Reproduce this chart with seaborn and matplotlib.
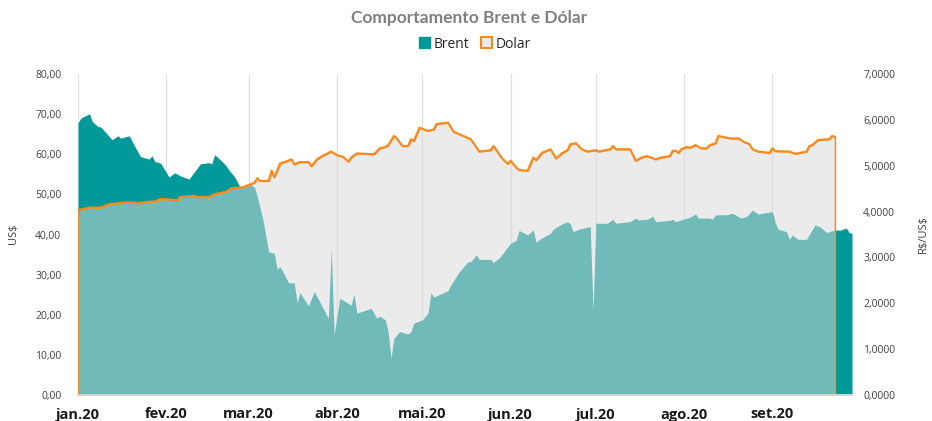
import pandas as pd
import matplotlib
matplotlib.use("Agg")
import matplotlib.pyplot as plt
from matplotlib.patches import Patch
from matplotlib.ticker import FuncFormatter, MultipleLocator
import seaborn as sns

# Dias contados a partir de 01/01/2020 e valores
dias_brent = [0, 1, 4, 5, 7, 8, 11, 12, 14, 15, 18, 20, 22, 25, 26, 27, 29,
              32, 34, 36, 39, 43, 46, 47, 48, 50, 52, 53, 55, 57, 59,
              60, 62, 63, 65, 67, 69, 70, 71, 74, 76, 77, 78, 81, 83, 84, 88, 89, 90,
              92, 96, 97, 98, 103, 105, 106, 108, 109, 110, 111, 113, 116, 117, 118,
              121, 123, 124, 125, 130, 131, 134, 137, 138, 140, 141, 145, 146, 148,
              152, 154, 155, 158, 160, 161, 162, 166, 167, 170, 172, 173, 174, 176, 180, 181,
              182, 186, 188, 189, 194, 196, 197, 200, 202, 203, 208, 209, 210,
              215, 217, 218, 222, 223, 224, 228, 230, 233, 235, 237, 239,
              244, 245, 246, 249, 250, 251, 253, 256, 259, 261, 263, 266, 268, 270, 271, 272]
brent = [67.8, 69.0, 70.1, 68.2, 66.9, 66.8, 64.4, 63.6, 64.6, 64.0, 64.6, 61.9, 59.4, 58.8, 59.6, 58.2, 57.8,
         54.3, 55.4, 54.6, 53.8, 57.6, 57.9, 57.6, 59.9, 58.6, 57.2, 56.1, 54.4, 51.8, 52.4,
         52.8, 51.8, 49.5, 43.6, 35.7, 35.3, 31.3, 32.0, 28.0, 27.9, 23.0, 25.5, 22.2, 25.8, 24.5, 19.1, 36.6, 15.0,
         24.1, 22.4, 25.2, 20.4, 21.6, 19.1, 19.7, 18.7, 15.8, 9.2, 14.1, 15.8, 15.2, 15.8, 17.9,
         18.7, 20.4, 25.4, 24.4, 26.0, 27.4, 30.7, 33.2, 33.2, 34.9, 33.8, 33.8, 33.0, 34.1,
         37.8, 38.5, 41.0, 39.9, 41.1, 38.0, 38.7, 40.3, 41.3, 42.6, 43.2, 42.6, 40.7, 41.3, 42.0, 21.2,
         42.8, 42.8, 43.8, 42.8, 43.2, 44.1, 43.6, 43.8, 44.5, 43.2, 43.5, 43.8, 43.2,
         44.3, 45.1, 44.1, 44.1, 43.8, 44.9, 44.9, 45.3, 44.1, 44.5, 46.1, 45.1,
         45.7, 43.0, 41.3, 40.7, 38.8, 39.9, 38.8, 38.8, 42.4, 41.8, 40.5, 41.1, 41.1, 41.6, 40.5, 40.3]

dias_dolar = [0, 4, 8, 11, 15, 19, 21, 24, 27, 29, 31, 35, 36, 41, 42, 46, 48, 52, 54, 58,
              60, 62, 63, 64, 67, 68, 69, 71, 73, 75, 76, 78, 81, 82, 84, 86, 89,
              91, 93, 95, 96, 98, 104, 106, 108, 109, 111, 112, 114, 116, 117, 118, 120,
              123, 125, 126, 130, 132, 138, 141, 145, 146, 149, 151,
              152, 154, 155, 158, 160, 161, 163, 166, 168, 170, 172, 173, 175, 177, 179,
              182, 183, 187, 188, 189, 194, 196, 198, 200, 203, 205, 208, 209, 210, 211, 212,
              214, 215, 217, 219, 221, 222, 224, 225, 228, 230, 232, 234, 236, 237, 239, 243,
              244, 245, 250, 252, 256, 257, 258, 260, 264, 265, 266]
dolar = [4.03, 4.09, 4.09, 4.16, 4.19, 4.20, 4.18, 4.21, 4.22, 4.27, 4.27, 4.25, 4.32, 4.34, 4.32, 4.32, 4.38, 4.43, 4.51, 4.53,
         4.58, 4.63, 4.73, 4.67, 4.67, 4.89, 4.75, 5.05, 5.09, 5.14, 5.03, 5.08, 5.08, 4.99, 5.14, 5.22, 5.31,
         5.23, 5.20, 5.09, 5.18, 5.27, 5.25, 5.38, 5.41, 5.45, 5.65, 5.60, 5.43, 5.43, 5.58, 5.54, 5.83,
         5.76, 5.79, 5.91, 5.94, 5.74, 5.58, 5.31, 5.34, 5.43, 5.16, 5.04,
         5.11, 4.96, 4.91, 4.89, 5.18, 5.12, 5.28, 5.36, 5.16, 5.27, 5.34, 5.47, 5.49, 5.36, 5.31,
         5.34, 5.31, 5.36, 5.43, 5.36, 5.36, 5.11, 5.18, 5.21, 5.14, 5.18, 5.21, 5.33, 5.33, 5.28, 5.36,
         5.41, 5.39, 5.45, 5.38, 5.38, 5.45, 5.49, 5.65, 5.61, 5.59, 5.60, 5.52, 5.47, 5.36, 5.31, 5.28,
         5.38, 5.32, 5.31, 5.26, 5.31, 5.43, 5.45, 5.56, 5.58, 5.65, 5.63]

meses = ["jan.20", "fev.20", "mar.20", "abr.20", "mai.20", "jun.20", "jul.20", "ago.20", "set.20"]

inicio = pd.Timestamp("2020-01-01")
datas_brent = inicio + pd.to_timedelta(dias_brent, unit="D")
datas_dolar = inicio + pd.to_timedelta(dias_dolar, unit="D")

sns.set_theme(style="white")
plt.rcParams["font.family"] = ["Open Sans", "DejaVu Sans"]

cor_brent = "#009999"
cor_dolar = "#F98B1E"

fig = plt.figure(figsize=(9.32, 4.21), dpi=100)
ax = fig.add_axes([78 / 932, 1 - 395 / 421, 774 / 932, 321 / 421])
ax2 = ax.twinx()

ax.fill_between(datas_brent, brent, 0, color=cor_brent, linewidth=0)
ax2.fill_between(datas_dolar, dolar, 0, facecolor=(0.85, 0.85, 0.85, 0.52),
                 edgecolor=cor_dolar, linewidth=1.1)
sns.lineplot(x=datas_dolar, y=dolar, ax=ax2, color=cor_dolar, linewidth=1.5)

ax.set_xlim(inicio, inicio + pd.Timedelta(days=272))
ax.set_ylim(0, 80)
ax2.set_ylim(0, 7)

ax.yaxis.set_major_locator(MultipleLocator(10))
ax2.yaxis.set_major_locator(MultipleLocator(1))
ax.yaxis.set_major_formatter(FuncFormatter(lambda v, p: f"{v:.2f}".replace(".", ",")))
ax2.yaxis.set_major_formatter(FuncFormatter(lambda v, p: f"{v:.4f}".replace(".", ",")))

ticks = pd.date_range("2020-01-01", periods=9, freq="MS")
ax.set_xticks(ticks)
ax.set_xticklabels(meses, fontsize=10.5, fontweight="bold", color="#1a1a1a")
ax.tick_params(axis="x", length=4, width=0.8, color="#d0d0d0", pad=5)
ax.tick_params(axis="y", length=0, pad=12, labelsize=7.5, labelcolor="#404040")
ax2.tick_params(axis="y", length=0, pad=8, labelsize=7.5, labelcolor="#404040")

ax.grid(axis="x", color="#e0e0e0", linewidth=0.9)
ax.grid(axis="y", visible=False)
ax2.grid(False)
ax.set_axisbelow(True)

for a in (ax, ax2):
    for s in ("top", "left", "right"):
        a.spines[s].set_visible(False)
    a.spines["bottom"].set_color("#d9d9d9")

ax.set_xlabel("")
ax.set_ylabel("")
ax2.set_ylabel("")
fig.text(14 / 932, 1 - 234 / 421, r"US\$", rotation=90, ha="center", va="center",
         fontsize=8, color="#404040")
fig.text(923 / 932, 1 - 234 / 421, r"R\$/US\$", rotation=90, ha="center", va="center",
         fontsize=8, color="#404040")

fig.text(469 / 932, 1 - 18 / 421, "Comportamento Brent e Dólar", ha="center", va="center",
         fontsize=12.5, fontweight="bold", color="#808080", family=["Lato", "DejaVu Sans"])

handles = [Patch(facecolor=cor_brent, edgecolor=cor_brent, label="Brent"),
           Patch(facecolor="#ebebeb", edgecolor=cor_dolar, linewidth=1.5, label="Dolar")]
fig.legend(handles=handles, loc="center", bbox_to_anchor=(475 / 932, 1 - 44 / 421), ncol=2,
           frameon=False, fontsize=10, handlelength=0.8, handleheight=0.9,
           handletextpad=0.3, columnspacing=0.8)

fig.savefig("out.png", dpi=100)
